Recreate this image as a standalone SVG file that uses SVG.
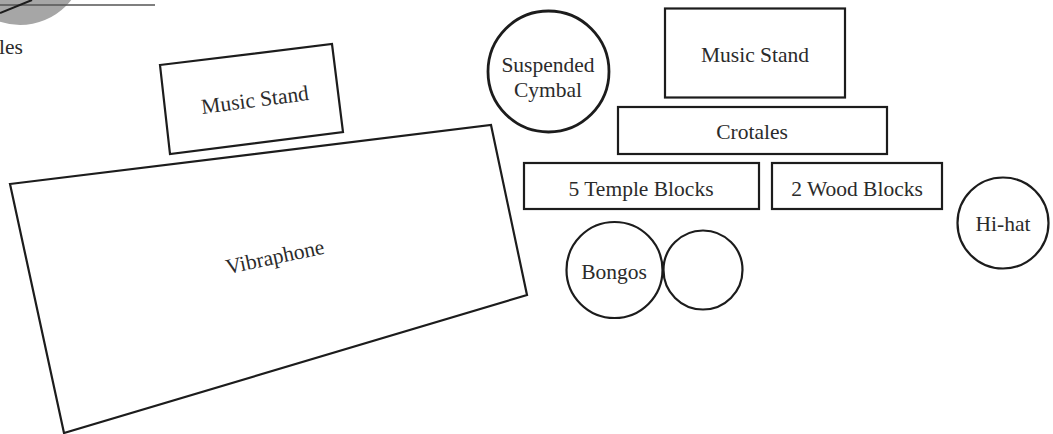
<svg xmlns="http://www.w3.org/2000/svg" width="1053" height="434" viewBox="0 0 1053 434">
<style>
.s{fill:#fff;stroke:#1c1c1c;stroke-width:2.2}
.t{font-family:"Liberation Serif","Times New Roman",serif;font-size:21.5px;fill:#2b2b2b;text-anchor:middle}
</style>
<rect width="1053" height="434" fill="#fff"/>
<g id="partial-node">
<circle cx="20" cy="-40" r="65" fill="#a6a6a6"/>
<line x1="0" y1="5" x2="155" y2="5" stroke="#555" stroke-width="1.5"/>
<line x1="0" y1="13" x2="32" y2="0" stroke="#1c1c1c" stroke-width="2"/>
<text class="t" x="-1" y="54" style="text-anchor:start">les</text>
</g>
<g id="music-stand-left">
<polygon class="s" points="160,65 332,44 343,132 170,154"/>
<text class="t" x="255" y="107" transform="rotate(-7.5 255 100)">Music Stand</text>
</g>
<g id="vibraphone">
<polygon class="s" points="10,184 491,125 527,295 64,433"/>
<text class="t" x="275" y="264" transform="rotate(-12 275 257)">Vibraphone</text>
</g>
<g id="suspended-cymbal">
<circle cx="548.5" cy="71.5" r="60.5" fill="#fff" stroke="#1c1c1c" stroke-width="2.8"/>
<text class="t" x="548" y="72">Suspended</text>
<text class="t" x="548" y="97">Cymbal</text>
</g>
<g id="music-stand-right">
<rect class="s" x="665" y="8.5" width="180" height="89"/>
<text class="t" x="755" y="62">Music Stand</text>
</g>
<g id="crotales">
<rect class="s" x="618" y="107" width="269" height="47"/>
<text class="t" x="752" y="139">Crotales</text>
</g>
<g id="temple-blocks">
<rect class="s" x="524" y="163" width="235" height="46"/>
<text class="t" x="641" y="196">5 Temple Blocks</text>
</g>
<g id="wood-blocks">
<rect class="s" x="772" y="163" width="170" height="46"/>
<text class="t" x="857" y="196">2 Wood Blocks</text>
</g>
<g id="hi-hat">
<circle class="s" cx="1003" cy="223" r="45.5"/>
<text class="t" x="1003" y="231">Hi-hat</text>
</g>
<g id="bongos">
<circle class="s" cx="614.5" cy="270" r="48"/>
<circle class="s" cx="703" cy="270" r="39.5"/>
<text class="t" x="614" y="279">Bongos</text>
</g>
<g id="connectors"/>
</svg>
